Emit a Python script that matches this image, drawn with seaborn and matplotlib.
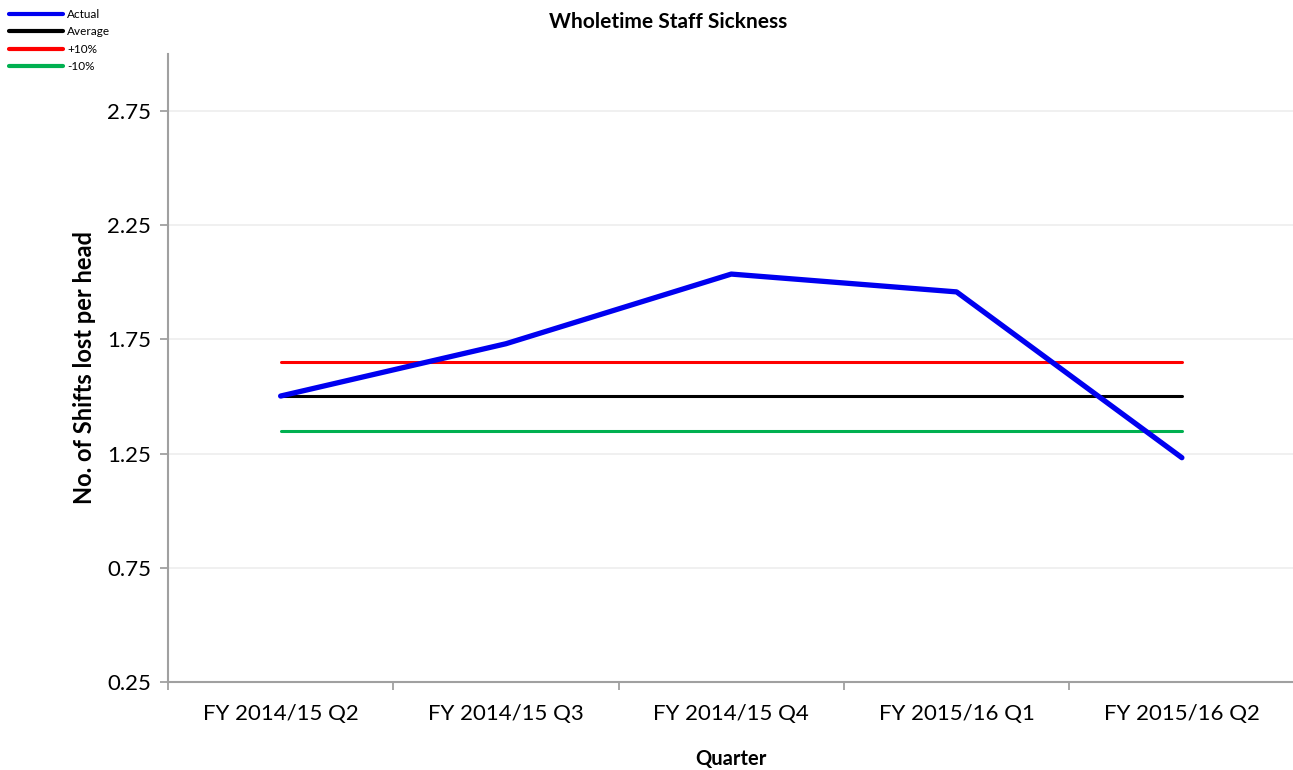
import pandas as pd
import matplotlib.pyplot as plt
import matplotlib.ticker as mticker
import seaborn as sns

# Chart data
quarters = ['FY 2014/15 Q2', 'FY 2014/15 Q3', 'FY 2014/15 Q4', 'FY 2015/16 Q1', 'FY 2015/16 Q2']
actual = [1.502, 1.731, 2.036, 1.958, 1.232]
average = [1.50, 1.50, 1.50, 1.50, 1.50]
plus_10 = [1.65, 1.65, 1.65, 1.65, 1.65]
minus_10 = [1.35, 1.35, 1.35, 1.35, 1.35]
y_ticks = [0.25, 0.75, 1.25, 1.75, 2.25, 2.75]

series = {'Actual': actual, 'Average': average, '+10%': plus_10, '-10%': minus_10}
colours = {'Actual': '#0000F0', 'Average': '#000000', '+10%': '#FF0000', '-10%': '#00B050'}
widths = {'Actual': 3.8, 'Average': 2.2, '+10%': 2.2, '-10%': 2.2}

rows = []
for name, vals in series.items():
    for i, v in enumerate(vals):
        rows.append({'pos': i, 'quarter': quarters[i], 'value': v, 'series': name})
df = pd.DataFrame(rows)

sns.set_theme(style="white")
plt.rcParams['font.family'] = ['Lato', 'DejaVu Sans']
plt.rcParams['text.color'] = 'black'
plt.rcParams['axes.labelcolor'] = 'black'
plt.rcParams['xtick.color'] = 'black'
plt.rcParams['ytick.color'] = 'black'

fig = plt.figure(figsize=(12.93, 7.70), dpi=100)
ax = fig.add_axes([0.1299, 0.1143, 0.8713, 0.8157])

# draw the lines back to front so Actual sits on top
for name in ['-10%', '+10%', 'Average', 'Actual']:
    sns.lineplot(data=df[df['series'] == name], x='pos', y='value', ax=ax,
                 color=colours[name], linewidth=widths[name], label=name,
                 solid_capstyle='round', zorder=3 if name == 'Actual' else 2)

ax.set_xlim(-0.5, len(quarters) - 0.5)
ax.set_ylim(0.25, 3.0)
ax.set_yticks(y_ticks)
ax.yaxis.set_major_formatter(mticker.FormatStrFormatter('%.2f'))
ax.grid(axis='y', color='#EFEFEF', linewidth=1.3, zorder=0)

# category ticks between labels, labels centred on categories
ax.set_xticks([i - 0.5 for i in range(len(quarters) + 1)])
ax.set_xticklabels([])
ax.set_xticks(range(len(quarters)), minor=True)
ax.set_xticklabels(quarters, minor=True)
ax.tick_params(axis='x', which='major', length=6, width=1.3, color='#A0A0A0', direction='out', bottom=True)
ax.tick_params(axis='x', which='minor', length=0, labelsize=16, pad=16, labelcolor='black')
ax.tick_params(axis='y', length=6, width=1.3, color='#A0A0A0', direction='out', left=True,
               labelsize=16, pad=6, labelcolor='black')

for side in ['top', 'right']:
    ax.spines[side].set_visible(False)
for side in ['left', 'bottom']:
    ax.spines[side].set_color('#A0A0A0')
    ax.spines[side].set_linewidth(1.5)

ax.set_xlabel('Quarter', fontsize=14.5, fontweight='bold', labelpad=18)
ax.set_ylabel('No. of Shifts lost per head', fontsize=17, fontweight='bold', labelpad=8)
fig.text(0.517, 0.972, 'Wholetime Staff Sickness', ha='center', va='center',
         fontsize=15, fontweight='bold')

# legend in the top left corner, order as in the reference
ax.get_legend().remove()
handles, labels = ax.get_legend_handles_labels()
order = [labels.index(n) for n in series]
leg = fig.legend([handles[i] for i in order], [labels[i] for i in order],
                 loc='upper left', bbox_to_anchor=(0.0, 1.0), frameon=False,
                 fontsize=8.5, handlelength=4.6, handletextpad=0.35,
                 labelspacing=0.55, borderaxespad=0.35)
for line in leg.get_lines():
    line.set_linewidth(3)

fig.savefig('out.png', dpi=100)
